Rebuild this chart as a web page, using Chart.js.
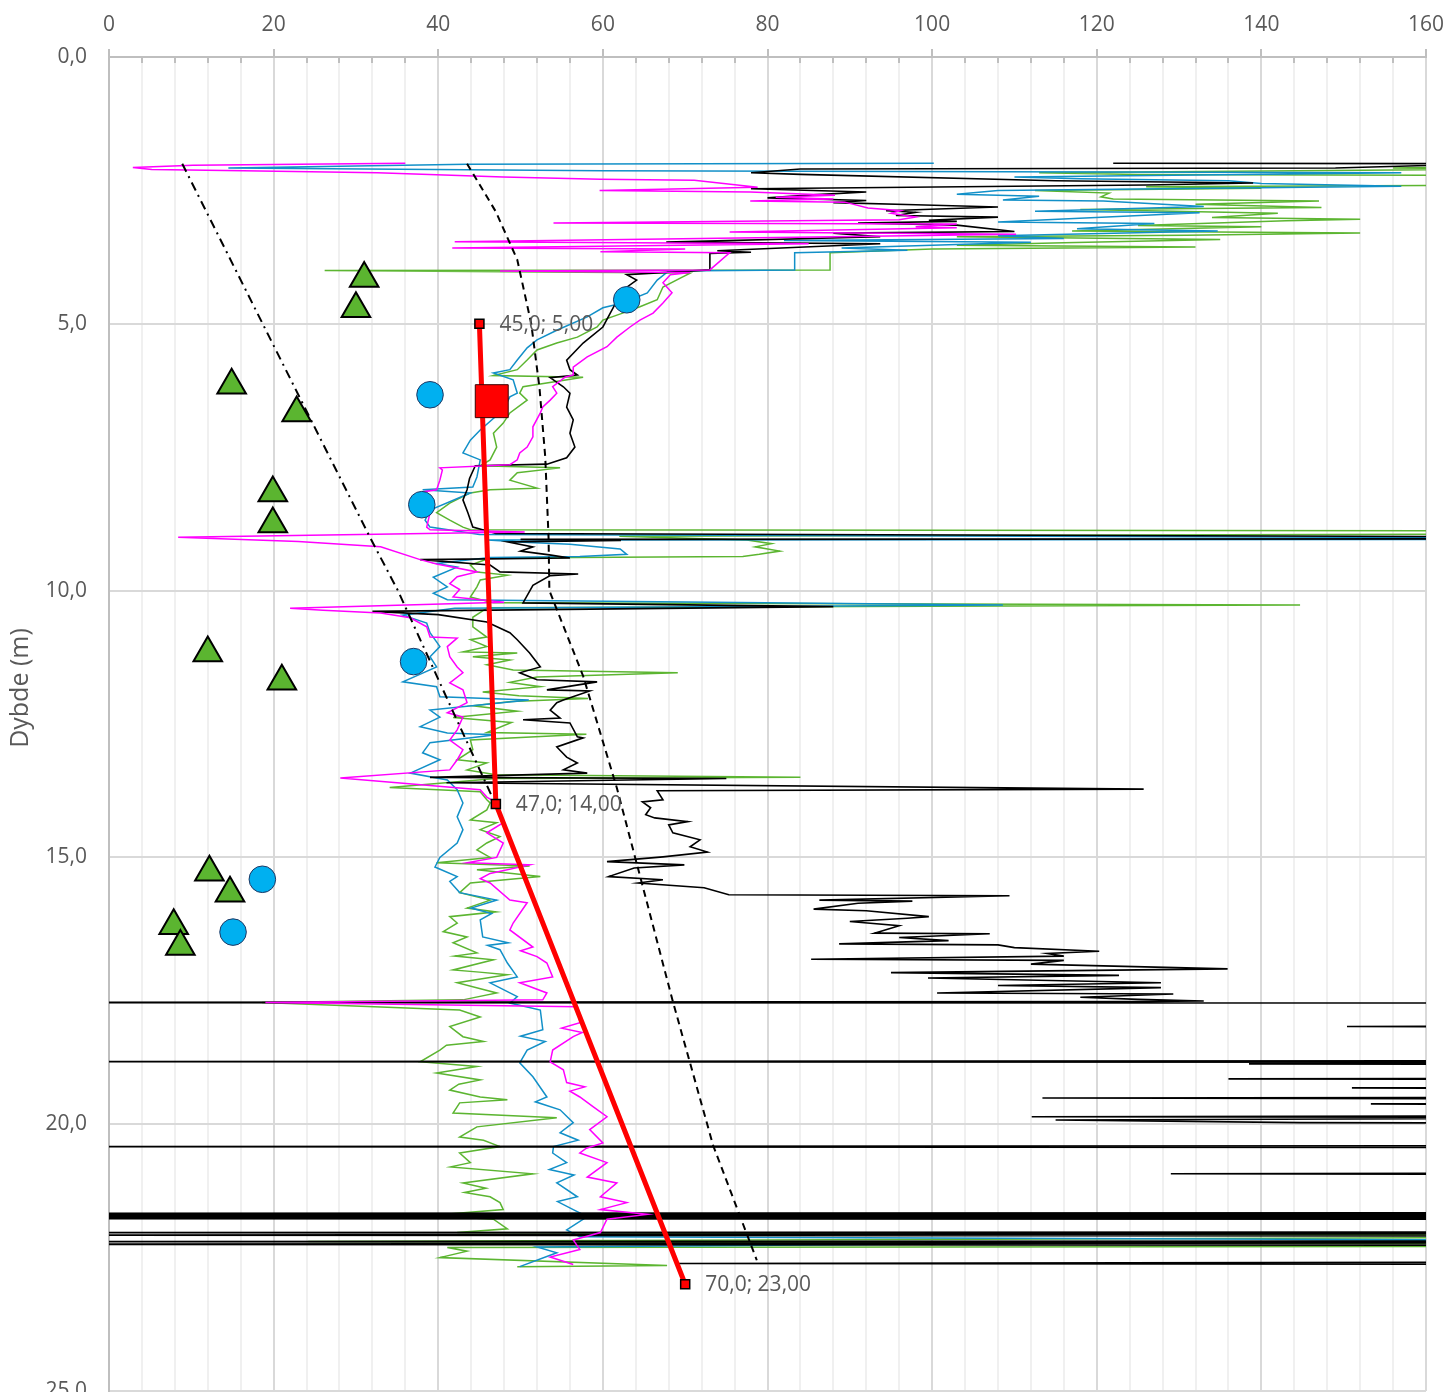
<!DOCTYPE html>
<html>
<head>
<meta charset="utf-8">
<script src="https://cdn.jsdelivr.net/npm/chart.js@4.4.1/dist/chart.umd.min.js"></script>
<style>
  html, body { margin: 0; padding: 0; background: #ffffff; }
  #wrap { width: 1448px; height: 1392px; }
</style>
</head>
<body>
<div id="wrap"><canvas id="chart" width="1448" height="1392"></canvas></div>
<script>
// Axis ticks
const xTickValues = [0,4,8,12,16,20,24,28,32,36,40,44,48,52,56,60,64,68,72,76,80,84,88,92,96,100,104,108,112,116,120,124,128,132,136,140,144,148,152,156,160];
const xTickLabels = ['0','20','40','60','80','100','120','140','160'];
const depthTickValues = [0,5,10,15,20,25];

// CPT soundings: [value, depth (m)]
const cptBlack = [
  [122.0,1.99],[168,2.00],[149,2.08],[84,2.10],[78,2.17],[84,2.20],[115,2.32],[139,2.36],[126,2.40],[78,2.47],[92,2.53],[86,2.58],[80,2.64],[92,2.69],[88,2.73],[98,2.77],[108,2.81],[94.4,2.88],[98,2.91],[95.6,2.97],[108,3.00],[99.6,3.06],[103,3.08],[91,3.11],[103,3.15],[110,3.27],[88,3.30],[93.7,3.37],[67.7,3.47],[93.7,3.50],[73.9,3.63],[78,3.66],[73,3.68],[73,3.99],
  [62.9,4.08],[64.1,4.18],[62.4,4.37],[60.9,4.80],[60.0,5.06],[57.6,5.36],[55.6,5.68],[56.0,5.86],[56.9,5.96],[53.6,6.01],[55.2,6.18],[56.0,6.30],[55.6,6.56],[56.4,6.80],[56.0,7.05],[56.6,7.31],[55.6,7.51],[53.2,7.63],[44.5,7.66],[43.8,7.90],[43.5,8.11],[43.0,8.30],[43.6,8.54],[44.2,8.81],
  [47,8.93],[170,8.99],[170,9.03],[50,9.04],[62.2,9.06],[48.5,9.09],[51.5,9.18],[50,9.26],[53.5,9.33],[56,9.39],[37.8,9.42],[46.3,9.52],[47.5,9.65],[57.0,9.69],[53.6,9.72],[51.5,9.90],[50.3,10.23],[88,10.30],[32,10.39],[40,10.45],[45.9,10.59],[48.7,10.79],[49.6,10.92],[51.1,11.17],[52.4,11.43],[49.9,11.54],[52.0,11.67],[59.3,11.71],[53.2,11.86],[58.4,11.88],[55.2,12.05],[54.4,12.10],[53.6,12.24],[54.8,12.39],[50.3,12.42],[56.0,12.48],[56.9,12.74],[57.6,12.76],[54.4,12.93],[55.6,13.12],[56.9,13.23],[55.2,13.36],[58.1,13.42],[39.0,13.50],[75,13.52],[41,13.60],[125.7,13.72],
  [66.6,13.75],[67.3,13.92],[64.8,13.96],[65.8,14.07],[65.2,14.20],[66.3,14.26],[70.3,14.33],[68.0,14.39],[68.5,14.54],[71.8,14.67],[70.6,14.80],[72.7,14.90],[67.3,14.99],[60.5,15.08],[69.9,15.14],[63.8,15.20],[60.7,15.36],[67.3,15.42],[64.3,15.48],[72.3,15.57],[75.3,15.70],[109.4,15.72],[86.3,15.80],[97.6,15.82],[91,15.86],[85.6,15.97],[92,16.0],[99.6,16.11],[97,16.14],[90,16.20],[96,16.28],[93,16.42],[107,16.43],[96,16.50],[102,16.56],[88.7,16.62],[108,16.64],[110,16.69],[120.3,16.76],[114,16.80],[116,16.85],[85.3,16.91],[116,16.93],[112,17.0],[135.9,17.09],[95,17.16],[122.7,17.21],[99.5,17.26],[127.8,17.35],[108,17.40],[127.8,17.44],[100.6,17.54],[129.3,17.56],[118,17.62],[125,17.66],[133,17.69],[126,17.70],
  [-20,17.72],[200,17.73],[200,18.15],[150.4,18.17],[200,18.19],[200,18.81],[-20,18.83],[200,18.84],[138.5,18.87],[200,18.89],[200,19.13],[136,19.15],[200,19.17],[200,19.30],[151,19.32],[200,19.34],[200,19.49],[113.4,19.51],[200,19.53],[200,19.60],[153.3,19.62],[200,19.64],[200,19.84],[112.1,19.86],[200,19.88],[115,19.92],[144.7,19.97],[200,19.99],[200,20.40],[-20,20.42],[200,20.44],[200,20.91],[129,20.93],[200,20.95],
  [200,21.66],[-20,21.67],[200,21.68],[-20,21.69],[200,21.70],[-20,21.71],[200,21.72],[-20,21.73],[200,21.74],[-20,21.75],[200,21.76],[-20,21.77],[200,21.78],[200,22.02],[-20,22.03],[200,22.05],[-20,22.08],[200,22.10],[200,22.19],[-20,22.20],[200,22.22],[-20,22.25],[200,22.27],[200,22.58],[69,22.61],[200,22.63]
];

const cptBlue = [
  [100.2,1.99],[43.5,2.01],[14.5,2.08],[60,2.13],[157,2.17],[110,2.25],[118,2.28],[136,2.32],[140,2.37],[157,2.42],[108,2.50],[103,2.57],[113,2.61],[108.6,2.68],[120.8,2.70],[133,2.80],[112.5,2.89],[132.5,2.92],[108,3.09],[127,3.12],[117.6,3.22],[134.7,3.26],[108,3.35],[116,3.40],[82,3.44],[112,3.47],[89,3.58],[97,3.62],[83.3,3.67],[83.3,3.99],[68,4.01],
  [66.6,4.18],[65.4,4.42],[62.4,4.61],[60.0,4.70],[58.1,4.87],[54.4,5.12],[52.0,5.30],[50.8,5.45],[49.6,5.68],[48.7,5.86],[46.7,5.92],[49.1,6.05],[49.6,6.30],[48.7,6.37],[47.9,6.61],[45.1,6.99],[43.9,7.18],[43.0,7.42],[45.1,7.55],[44.7,7.87],[44.2,8.06],[38.1,8.11],[43.9,8.17],[39.0,8.49],[38.4,8.68],[39.0,8.81],
  [45,8.95],[170,9.01],[170,9.04],[46,9.05],[51,9.10],[56,9.13],[59.2,9.18],[62.1,9.22],[62.9,9.32],[57.2,9.36],[46.3,9.38],[39.8,9.49],[42.3,9.56],[39.4,9.75],[41.1,9.93],[39.4,10.05],[41.1,10.17],[108.6,10.27],[42,10.33],[35.7,10.46],[38.6,10.61],[39.0,10.79],[40.2,11.05],[39.0,11.24],[39.8,11.43],[35.7,11.71],[39.8,11.80],[40.2,11.99],[51,12.05],[39.0,12.24],[40.2,12.37],[37.8,12.55],[41.1,12.67],[47,12.70],[39.0,12.85],[38.1,13.04],[40.2,13.17],[36.6,13.42],[41.1,13.55],
  [42.3,13.73],[43.0,13.98],[42.3,14.24],[43.0,14.48],[42.3,14.73],[40.2,15.0],[39.6,15.18],[42.3,15.36],[41.4,15.45],[42.6,15.66],[47.1,15.80],[44.0,15.95],[46.5,16.05],[45.1,16.17],[45.4,16.49],[48.5,16.60],[46.0,16.65],[47.5,16.73],[48.4,16.98],[49.6,17.24],[46.3,17.35],[49.6,17.61],[48.7,17.73],[52.4,17.86],[52.7,18.23],[50.0,18.35],[53.0,18.45],[50.8,18.61],[49.9,18.85],[51.5,19.11],[53.2,19.49],[51.8,19.58],[54.8,19.73],[56.4,19.97],[54.8,20.16],[57.0,20.30],[54.0,20.42],[53.9,20.54],[55.6,20.72],[53.5,20.85],[56.5,20.95],[54.4,21.10],[56.9,21.36],[54.5,21.45],[56.4,21.60],[58.1,21.73],[55.6,21.98],[57.2,22.11],[170,22.17],[52.0,22.30],[54.4,22.41],[49.9,22.67]
];

const cptMagenta = [
  [36.0,1.99],[10.2,2.03],[2.9,2.07],[5.2,2.11],[16.3,2.13],[32.6,2.17],[47.9,2.25],[59.7,2.29],[71.1,2.31],[78.8,2.44],[59.6,2.50],[77.9,2.53],[88.2,2.59],[81,2.63],[88,2.66],[77.9,2.70],[89.4,2.72],[92.2,2.83],[96.2,2.88],[95,2.93],[98,3.00],[96,3.05],[54,3.11],[103,3.13],[98,3.18],[103,3.20],[75.4,3.28],[110.2,3.32],[88,3.37],[42,3.46],[85,3.50],[41.7,3.58],[70,3.60],[59.7,3.65],[75.4,3.67],[73,3.99],[47.5,4.01],[70.6,4.04],
  [68.2,4.08],[67.3,4.23],[68.4,4.42],[67.3,4.61],[66.1,4.80],[64.5,4.93],[63.3,5.06],[61.7,5.25],[60.5,5.43],[58.1,5.62],[56.4,5.81],[56.4,5.96],[55.4,6.00],[53.9,6.18],[54.4,6.30],[53.6,6.43],[52.7,6.56],[52.4,6.67],[51.5,6.93],[51.5,7.12],[50.8,7.31],[49.9,7.42],[49.6,7.55],[48.7,7.64],[40.2,7.70],[40.5,7.74],[40.2,7.93],[39.8,8.11],[38.1,8.15],[38.6,8.30],[39.0,8.54],[38.6,8.81],[39.0,8.86],
  [50.5,8.90],[8.4,9.00],[23,9.08],[33,9.18],[37.8,9.42],[39.8,9.50],[44.7,9.65],[42.3,9.74],[41.4,9.87],[42.6,9.98],[41.8,10.12],[48,10.22],[22,10.33],[26,10.37],[33,10.42],[36.6,10.51],[38.6,10.68],[39.0,10.87],[42.3,10.89],[41.1,11.05],[41.4,11.24],[42.3,11.43],[43.0,11.54],[41.4,11.73],[43.0,11.86],[43.5,12.10],[41.1,12.29],[43.0,12.37],[42.3,12.61],[41.4,12.80],[43.0,12.98],[42.3,13.17],[41.4,13.36],[28.1,13.51],[35.0,13.60],[45.1,13.73],[45.9,13.87],
  [47.1,13.98],[47.9,14.35],[45.9,14.54],[47.9,14.73],[47.1,15.0],[43.5,15.10],[51.1,15.14],[46.3,15.30],[45.1,15.40],[46.3,15.48],[48.7,15.80],[50.8,15.85],[49.1,16.23],[48.7,16.36],[51.5,16.68],[50.0,16.75],[52.0,16.86],[53.2,16.98],[53.9,17.24],[49.9,17.35],[53.2,17.54],[52.7,17.67],[19,17.72],[56.9,17.80],[57.2,18.10],[55.0,18.20],[57.5,18.28],[56.4,18.36],[53.9,18.61],[53.6,18.83],[55.2,18.98],[55.6,19.22],[57.8,19.30],[56.0,19.38],[57.2,19.49],[58.8,19.67],[60.5,19.86],[58.4,20.10],[60.0,20.35],[58.0,20.45],[57.2,20.54],[60.5,20.72],[58.1,20.99],[61.7,21.10],[59.7,21.36],[62.9,21.47],[59.7,21.60],[65.4,21.69],[60.5,21.78],[59.7,22.03],[56.4,22.17],[57.2,22.35],[53.6,22.49],[56.4,22.63]
];

const cptGreen = [
  [175,1.99],[170,2.05],[156,2.08],[170,2.10],[113,2.17],[125,2.20],[175,2.22],[175,2.40],[126,2.43],[140,2.46],[112.5,2.50],[121.5,2.55],[120.5,2.62],[122,2.66],[147,2.70],[132,2.76],[147.3,2.82],[118,2.86],[142,2.93],[134,3.01],[152,3.04],[143,3.07],[125,3.16],[140,3.18],[117,3.26],[152,3.30],[131,3.34],[103,3.37],[135,3.42],[116,3.48],[103,3.53],[132,3.56],[100,3.60],[87.6,3.67],[87.6,3.99],[26.2,4.00],[70.6,4.05],
  [69.7,4.12],[67.3,4.31],[66.6,4.55],[64.5,4.68],[62.4,4.80],[60.0,4.93],[59.3,5.06],[56.9,5.25],[54.4,5.36],[52.0,5.49],[50.8,5.68],[49.6,5.86],[46.7,5.97],[57.6,6.00],[50.3,6.18],[49.9,6.30],[50.8,6.43],[48.7,6.67],[47.9,6.86],[46.7,7.05],[47.1,7.31],[46.3,7.55],[45.1,7.66],[54.8,7.70],[49.6,7.79],[48.7,7.93],[52.0,8.08],[46.3,8.11],[43.9,8.17],[41.4,8.36],[39.8,8.54],[41.4,8.68],[43.0,8.81],[43.9,8.86],
  [175,8.88],[175,8.94],[62,8.98],[77.5,9.05],[80.5,9.12],[78.5,9.18],[81.5,9.26],[79,9.32],[77,9.36],[46.3,9.39],[43.9,9.52],[44.7,9.65],[48.4,9.71],[45.1,9.80],[44.7,9.93],[43.9,10.12],[46.7,10.23],[144.7,10.27],[46,10.32],[44.2,10.5],[44.2,10.68],[45.9,10.87],[43.9,10.92],[45.9,11.05],[43.0,11.15],[49.6,11.17],[44.2,11.24],[48.7,11.30],[45.9,11.39],[49.1,11.49],[69.1,11.54],[52.0,11.62],[48.7,11.72],[52.4,11.80],[45.4,11.90],[49.8,11.97],[58.2,12.02],[48.9,12.08],[44.2,12.16],[49.6,12.26],[41.8,12.38],[48.9,12.47],[45.9,12.66],[58.0,12.69],[43.9,12.80],[44.2,12.98],[42.3,13.17],[45.9,13.23],[43.5,13.36],[47,13.45],[84,13.50],[47,13.52],[34.1,13.69],[45.1,13.77],[45.9,13.92],
  [46.3,13.98],[45.9,14.11],[43.9,14.30],[47.1,14.35],[45.1,14.48],[47.5,14.61],[45.9,14.73],[44.7,14.86],[46.3,15.0],[39.8,15.10],[51.1,15.16],[44.7,15.23],[52.4,15.36],[43.9,15.48],[42.6,15.66],[46.3,15.80],[43.5,15.95],[47.0,16.02],[41.4,16.11],[42.3,16.23],[40.6,16.39],[43.5,16.49],[41.8,16.60],[44.7,16.79],[42.0,16.85],[46.7,16.92],[41.8,17.11],[45.0,17.15],[48.4,17.20],[42.3,17.35],[47.1,17.54],[43.0,17.67],[18.6,17.72],[42.6,17.86],[45.1,17.99],[41.4,18.17],[43.0,18.36],[45.5,18.45],[41.0,18.52],[40.2,18.61],[37.8,18.83],[44.7,18.92],[39.8,19.04],[45.1,19.17],[42.5,19.25],[41.4,19.36],[45.1,19.49],[48.4,19.54],[42.6,19.60],[41.8,19.79],[54.4,19.88],[44.7,20.05],[42.6,20.24],[45.5,20.30],[47.5,20.42],[42.6,20.54],[43.9,20.72],[41.5,20.80],[51.5,20.93],[43.0,21.10],[45.8,21.20],[43.2,21.28],[46.3,21.36],[47.5,21.47],[47.9,21.60],[39.0,21.71],[46.7,21.78],[48.4,21.96],[42.3,22.03],[175,22.08],[175,22.12],[24.2,22.20],[175,22.24],[175,22.29],[41.1,22.31],[43.5,22.38],[40.2,22.50],[67.8,22.65],[49.6,22.67]
];

// Reference curves
const dashedCurve = [[43.5,2.0],[47.0,2.9],[49.6,3.8],[51.3,5.0],[52.3,6.2],[53.0,7.5],[53.4,9.0],[53.5,10.0],[57.6,11.6],[61.7,13.7],[64.6,15.4],[68.5,17.7],[73.4,20.4],[78.7,22.55]];
const dashDotCurve = [[8.9,2.0],[31.7,9.0],[35.1,10.0],[41.0,12.0],[46.5,13.85]];

// Design profile
const designLine = [[45.0,5.00],[47.0,14.00],[70.0,23.00]];
const designPoint = [[46.5,6.45]];

// Laboratory results
const triangleTests = [[31.0,4.15],[30.0,4.72],[14.9,6.15],[22.8,6.67],[19.9,8.17],[19.9,8.75],[12.0,11.17],[21.0,11.70],[12.2,15.28],[14.7,15.67],[7.86,16.28],[8.67,16.67]];
const circleTests = [[62.9,4.55],[39.0,6.33],[38.0,8.39],[37.0,11.33],[18.63,15.41],[15.07,16.40]];

const FONT = "'Open Sans', 'DejaVu Sans', sans-serif";
const TEXT_COLOR = '#595959';
const toXY = arr => arr.map(([x, y]) => ({ x, y }));
const fmtNum = (v, d) => v.toFixed(d).replace('.', ',');

function trace(data, color, width) {
  return {
    data: toXY(data), showLine: true, borderColor: color, borderWidth: width,
    pointRadius: 0, pointHoverRadius: 0, fill: false, tension: 0, clip: 0
  };
}

// Short tick marks along the top axis (majors outward, minors inward)
const topTicks = {
  id: 'topTicks',
  beforeDatasetsDraw(chart) {
    const { ctx, chartArea, scales } = chart;
    ctx.save();
    ctx.strokeStyle = '#bfbfbf';
    ctx.lineWidth = 2;
    xTickValues.forEach(v => {
      const px = Math.round(scales.x.getPixelForValue(v));
      ctx.beginPath();
      if (v % 20 === 0) { ctx.moveTo(px, chartArea.top - 8); ctx.lineTo(px, chartArea.top); }
      else { ctx.moveTo(px, chartArea.top); ctx.lineTo(px, chartArea.top + 6); }
      ctx.stroke();
    });
    ctx.restore();
  }
};

// Value labels next to the design profile points
const designLabels = {
  id: 'designLabels',
  afterDatasetsDraw(chart) {
    const idx = chart.data.datasets.findIndex(d => d.label === 'design');
    const meta = chart.getDatasetMeta(idx);
    const { ctx } = chart;
    ctx.save();
    ctx.font = `21px ${FONT}`;
    ctx.fillStyle = TEXT_COLOR;
    ctx.textAlign = 'left';
    ctx.textBaseline = 'middle';
    meta.data.forEach((pt, i) => {
      const [v, d] = designLine[i];
      ctx.fillText(`${fmtNum(v, 1)}; ${fmtNum(d, 2)}`, pt.x + 20, pt.y + 1);
    });
    ctx.restore();
  }
};

// Rotated depth axis title
const yTitle = {
  id: 'yTitle',
  afterDraw(chart) {
    const { ctx } = chart;
    ctx.save();
    ctx.translate(21, 688);
    ctx.rotate(-Math.PI / 2);
    ctx.font = `25px ${FONT}`;
    ctx.fillStyle = TEXT_COLOR;
    ctx.textAlign = 'center';
    ctx.textBaseline = 'middle';
    ctx.fillText('Dybde (m)', 0, 0);
    ctx.restore();
  }
};

new Chart(document.getElementById('chart'), {
  type: 'scatter',
  data: {
    datasets: [
      { label: 'square', data: toXY(designPoint), pointStyle: 'rect', pointRadius: 23.3, pointHoverRadius: 23.3,
        backgroundColor: '#ff0000', borderColor: '#3a0000', borderWidth: 1 },
      { label: 'circles', data: toXY(circleTests), pointStyle: 'circle', pointRadius: 13.3, pointHoverRadius: 13.3,
        backgroundColor: '#00b0f0', borderColor: '#1f3864', borderWidth: 1 },
      { label: 'triangles', data: toXY(triangleTests), pointStyle: 'triangle', pointRadius: 16.5, pointHoverRadius: 16.5,
        backgroundColor: '#5bb530', borderColor: '#000000', borderWidth: 2 },
      { label: 'design', data: toXY(designLine), showLine: true, borderColor: '#ff0000', borderWidth: 5,
        pointStyle: 'rect', pointRadius: 6.4, pointHoverRadius: 6.4, pointBackgroundColor: '#ff0000',
        pointBorderColor: '#000000', pointBorderWidth: 1.5, tension: 0 },
      { label: 'dashed', data: toXY(dashedCurve), showLine: true, borderColor: '#000000', borderWidth: 2,
        borderDash: [7, 5], pointRadius: 0, tension: 0 },
      { label: 'dashdot', data: toXY(dashDotCurve), showLine: true, borderColor: '#000000', borderWidth: 2,
        borderDash: [9, 5, 2, 5], pointRadius: 0, tension: 0 },
      Object.assign({ label: 'magenta' }, trace(cptMagenta, '#ff00ff', 1.5)),
      Object.assign({ label: 'black' }, trace(cptBlack, '#000000', 1.6)),
      Object.assign({ label: 'blue' }, trace(cptBlue, '#1290c8', 1.5)),
      Object.assign({ label: 'green' }, trace(cptGreen, '#5cb531', 1.5))
    ]
  },
  options: {
    responsive: false,
    animation: false,
    devicePixelRatio: 1,
    events: [],
    layout: { autoPadding: false, padding: { top: 0, left: 0, right: 22, bottom: 1 } },
    plugins: { legend: { display: false }, tooltip: { enabled: false } },
    scales: {
      x: {
        type: 'linear', position: 'top', min: 0, max: 160,
        afterBuildTicks: axis => { axis.ticks = xTickValues.map(v => ({ value: v })); },
        ticks: {
          autoSkip: false, maxRotation: 0, minRotation: 0, padding: 19, color: TEXT_COLOR,
          font: { family: FONT, size: 21 },
          callback: v => (xTickLabels.includes(String(v)) ? String(v) : '')
        },
        grid: {
          drawTicks: false, lineWidth: 2,
          color: c => (c.tick && c.tick.value % 20 === 0 ? '#d9d9d9' : '#f0f0f0')
        },
        border: { display: true, color: '#bfbfbf', width: 2 },
        afterFit: s => { s.height = 57; s.paddingLeft = 0; s.paddingRight = 0; s.paddingTop = 0; s.paddingBottom = 0; }
      },
      y: {
        type: 'linear', reverse: true, min: 0, max: 25,
        afterBuildTicks: axis => { axis.ticks = depthTickValues.map(v => ({ value: v })); },
        ticks: {
          padding: 22, color: TEXT_COLOR, font: { family: FONT, size: 21 },
          callback: v => fmtNum(v, 1)
        },
        grid: { drawTicks: false, lineWidth: 2, color: '#d9d9d9' },
        border: { display: true, color: '#bfbfbf', width: 2 },
        afterFit: s => { s.width = 109; s.paddingLeft = 0; s.paddingRight = 0; s.paddingTop = 0; s.paddingBottom = 0; }
      }
    }
  },
  plugins: [topTicks, designLabels, yTitle]
});
</script>
</body>
</html>
